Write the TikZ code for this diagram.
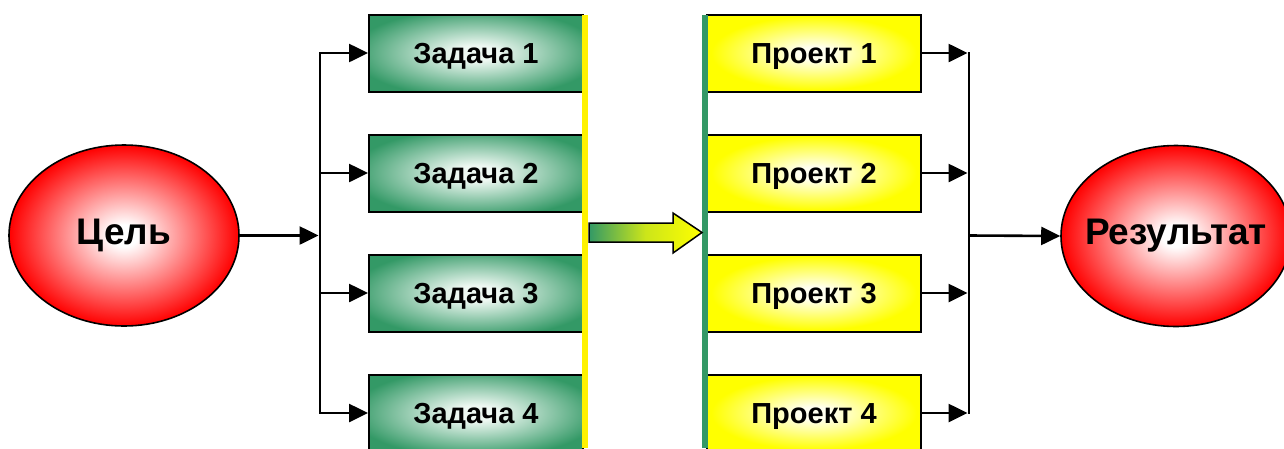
\documentclass[tikz,border=0pt]{standalone}
\usepackage{fontspec}
\setmainfont{Liberation Sans}
\usetikzlibrary{shapes.geometric,arrows.meta}
\definecolor{sea}{HTML}{339966}
\definecolor{paleyel}{HTML}{FFFFF0}
\definecolor{palegreen}{HTML}{EEF8F2}
\pgfdeclareradialshading{redglow}{\pgfpoint{0bp}{0bp}}{color(0bp)=(white); color(3bp)=(white); color(25bp)=(red); color(50bp)=(red)}
\pgfdeclareradialshading{greenglow}{\pgfpoint{0bp}{0bp}}{color(0bp)=(palegreen); color(5bp)=(palegreen); color(29bp)=(sea); color(50bp)=(sea)}
\pgfdeclareradialshading{yellowglow}{\pgfpoint{0bp}{0bp}}{color(0bp)=(paleyel); color(4bp)=(paleyel); color(24bp)=(yellow); color(50bp)=(yellow)}
\tikzset{
  bigoval/.style={ellipse, draw=black, line width=1.6pt, shade, shading=redglow,
    minimum width=230pt, minimum height=181pt, inner sep=0pt,
    font=\fontsize{37}{40}\selectfont\bfseries},
  taskbox/.style={rectangle, draw=black, line width=2pt, shade, shading=greenglow,
    minimum width=214pt, minimum height=77pt, inner sep=0pt, text height=21pt, text depth=0pt,
    font=\fontsize{29}{32}\selectfont\bfseries},
  projbox/.style={rectangle, draw=black, line width=2pt, shade, shading=yellowglow,
    minimum width=214pt, minimum height=77pt, inner sep=0pt, text height=21pt, text depth=0pt,
    font=\fontsize{29}{32}\selectfont\bfseries},
  conn/.style={line width=2.6pt, line cap=rect},
  arr/.style={line width=2.6pt, -{Triangle[length=19pt,width=18pt]}},
}
\begin{document}
\begin{tikzpicture}[x=1pt,y=-1pt]
\useasboundingbox (0,0) rectangle (1284,448);
\clip (0,0) rectangle (1284,448);
% goal and result
\node[bigoval] (goal) at (124,235.5) {\makebox[0pt]{Цель}};
\node[bigoval] (result) at (1176,236) {\makebox[0pt]{Результат}};
% tasks
\node[taskbox] (task1) at (476,53) {Задача 1};
\node[taskbox] (task2) at (476,173) {Задача 2};
\node[taskbox] (task3) at (476,293) {Задача 3};
\node[taskbox] (task4) at (476,413) {Задача 4};
% projects
\node[projbox] (proj1) at (814,53) {Проект 1};
\node[projbox] (proj2) at (814,173) {Проект 2};
\node[projbox] (proj3) at (814,293) {Проект 3};
\node[projbox] (proj4) at (814,413) {Проект 4};
% separator bars
\fill[yellow] (582,15) rectangle (588,448);
\fill[sea] (702,15) rectangle (708,448);
% left branching
\coordinate (lm) at (320,235.5);
\coordinate (l1) at (320,53);
\coordinate (l2) at (320,173);
\coordinate (l3) at (320,293);
\coordinate (l4) at (320,413);
\draw[conn] (l1) -- (l4);
\draw[arr] (goal.east) -- ([xshift=-1.5pt]lm);
\foreach \i in {1,2,3,4} {
  \draw[arr] (l\i) -- (task\i.west);
}
% right merging
\coordinate (rm) at (969,235.5);
\coordinate (r1) at (969,53);
\coordinate (r2) at (969,173);
\coordinate (r3) at (969,293);
\coordinate (r4) at (969,413);
\draw[conn] (r1) -- (r4);
\foreach \i in {1,2,3,4} {
  \draw[arr] (proj\i.east) -- ([xshift=-1.5pt]r\i);
}
\draw[arr] (rm) -- (result.west);
% middle block arrow
\draw[line width=1.5pt, left color=sea, right color=yellow, middle color=yellow!75!sea]
  (589,223) -- (673,223) -- (673,213) -- (702,232.5) -- (673,253) -- (673,242) -- (589,242) -- cycle;
\end{tikzpicture}
\end{document}
